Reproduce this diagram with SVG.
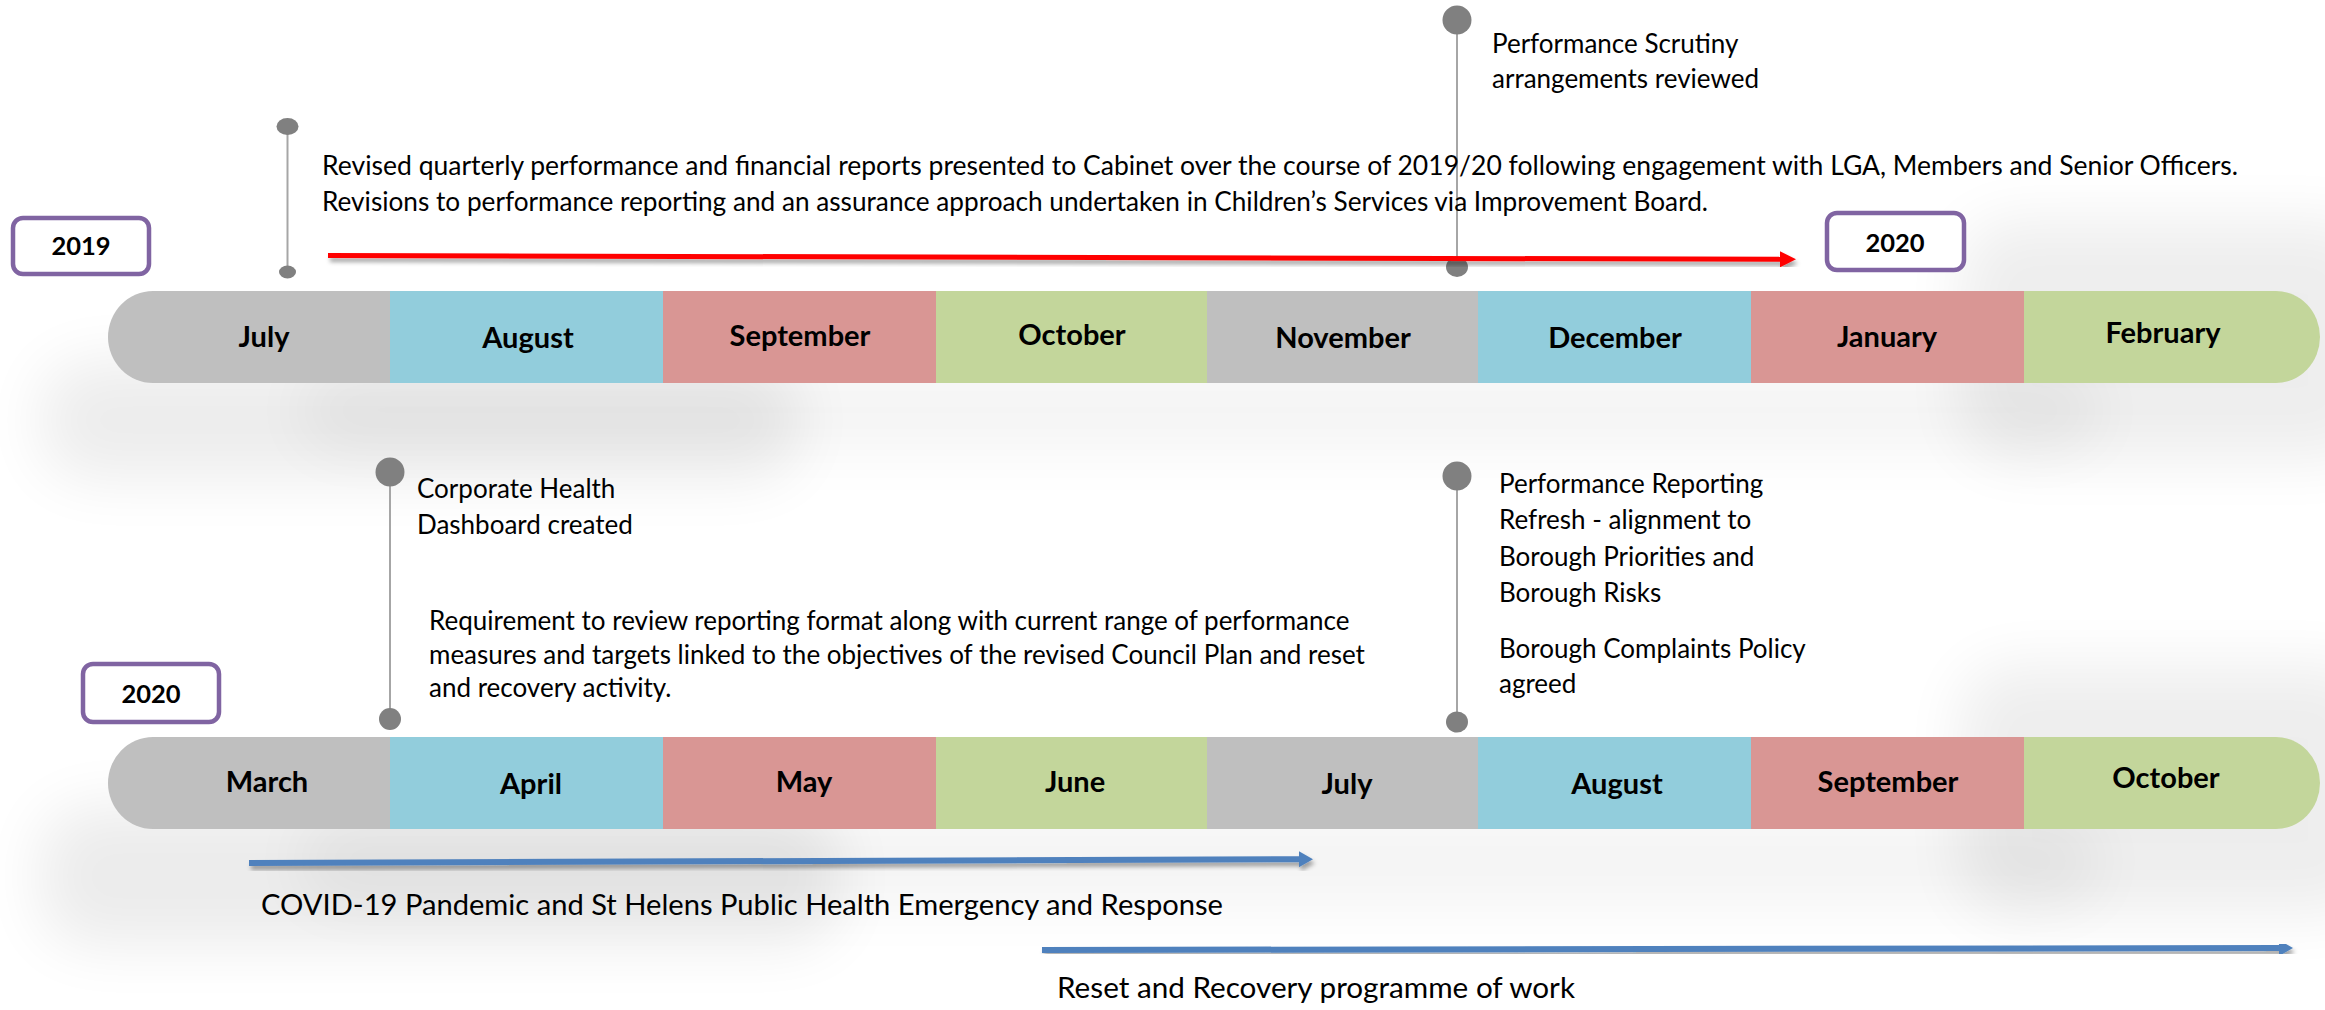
<svg xmlns="http://www.w3.org/2000/svg" width="2325" height="1010" viewBox="0 0 2325 1010">
  <defs>
    <style>
      .seg-gray{fill:#BFBFBF}
      .seg-blue{fill:#92CDDC}
      .seg-red{fill:#D99694}
      .seg-green{fill:#C3D69B}
      .month{font-family:Lato,"Liberation Sans",sans-serif;font-weight:700;font-size:29px;fill:#000;text-anchor:middle}
      .year-box{fill:#fff;stroke:#8064A2;stroke-width:4.5}
      .year{font-family:Lato,"Liberation Sans",sans-serif;font-weight:700;font-size:25.5px;fill:#000;text-anchor:middle}
      .note{font-family:Lato,"Liberation Sans",sans-serif;font-size:26px;fill:#000}
      .band{font-family:Lato,"Liberation Sans",sans-serif;font-size:29.5px;fill:#000}
      .stem{stroke:#A6A6A6;stroke-width:2;fill:none}
      .dot{fill:#808080}
      .haze{fill:#000;filter:url(#blur)}
    </style>
    <filter id="blur" x="-50%" y="-100%" width="200%" height="300%">
      <feGaussianBlur stdDeviation="30"/>
    </filter>
    <filter id="arrowShadow" x="-5%" y="-200%" width="110%" height="500%">
      <feDropShadow dx="2" dy="4" stdDeviation="2.2" flood-color="#000" flood-opacity="0.35"/>
    </filter>
    <marker id="headRed" markerUnits="userSpaceOnUse" viewBox="0 0 16 16" markerWidth="16" markerHeight="16" refX="0" refY="8" orient="auto">
      <path d="M0,0 L16,8 L0,16 Z" fill="#FF0000"/>
    </marker>
    <marker id="headBlue" markerUnits="userSpaceOnUse" viewBox="0 0 14 16" markerWidth="14" markerHeight="16" refX="0" refY="8" orient="auto">
      <path d="M0,0 L14,8 L0,16 Z" fill="#4F81BD"/>
    </marker>
  </defs>

  <rect width="2325" height="1010" fill="#fff"/>

  <!-- soft shadows beneath bars -->
  <g id="bar-shadows">
    <rect class="haze" x="40" y="360" width="760" height="120" rx="50" opacity="0.07"/>
    <rect class="haze" x="300" y="370" width="1800" height="80" rx="35" opacity="0.045"/>
    <rect class="haze" x="1960" y="220" width="420" height="240" rx="50" opacity="0.065"/>
    <rect class="haze" x="40" y="806" width="800" height="140" rx="50" opacity="0.075"/>
    <rect class="haze" x="300" y="816" width="1800" height="90" rx="35" opacity="0.045"/>
    <rect class="haze" x="1960" y="665" width="420" height="250" rx="50" opacity="0.065"/>
  </g>

  <!-- Top timeline -->
  <g id="timeline-2019">
    <g id="m-jul-2019"><path class="seg-gray" d="M390,291 L153,291 A45,46 0 0 0 153,383 L390,383 Z"/><text class="month" x="264" y="347">July</text></g>
    <g id="m-aug-2019"><rect class="seg-blue" x="390" y="291" width="273" height="92"/><text class="month" x="528" y="348">August</text></g>
    <g id="m-sep-2019"><rect class="seg-red" x="663" y="291" width="273" height="92"/><text class="month" x="800" y="346">September</text></g>
    <g id="m-oct-2019"><rect class="seg-green" x="936" y="291" width="271" height="92"/><text class="month" x="1072" y="345">October</text></g>
    <g id="m-nov-2019"><rect class="seg-gray" x="1207" y="291" width="271" height="92"/><text class="month" x="1343" y="348">November</text></g>
    <g id="m-dec-2019"><rect class="seg-blue" x="1478" y="291" width="273" height="92"/><text class="month" x="1615" y="348">December</text></g>
    <g id="m-jan-2020"><rect class="seg-red" x="1751" y="291" width="273" height="92"/><text class="month" x="1887" y="347">January</text></g>
    <g id="m-feb-2020"><path class="seg-green" d="M2024,291 L2276,291 A44,46 0 0 1 2276,383 L2024,383 Z"/><text class="month" x="2163" y="343">February</text></g>
  </g>

  <!-- Bottom timeline -->
  <g id="timeline-2020">
    <g id="m-mar-2020"><path class="seg-gray" d="M390,737 L153,737 A45,46 0 0 0 153,829 L390,829 Z"/><text class="month" x="267" y="792">March</text></g>
    <g id="m-apr-2020"><rect class="seg-blue" x="390" y="737" width="273" height="92"/><text class="month" x="531" y="794">April</text></g>
    <g id="m-may-2020"><rect class="seg-red" x="663" y="737" width="273" height="92"/><text class="month" x="804" y="792">May</text></g>
    <g id="m-jun-2020"><rect class="seg-green" x="936" y="737" width="271" height="92"/><text class="month" x="1075" y="792">June</text></g>
    <g id="m-jul-2020"><rect class="seg-gray" x="1207" y="737" width="271" height="92"/><text class="month" x="1347" y="794">July</text></g>
    <g id="m-aug-2020"><rect class="seg-blue" x="1478" y="737" width="273" height="92"/><text class="month" x="1617" y="794">August</text></g>
    <g id="m-sep-2020"><rect class="seg-red" x="1751" y="737" width="273" height="92"/><text class="month" x="1888" y="792">September</text></g>
    <g id="m-oct-2020"><path class="seg-green" d="M2024,737 L2276,737 A44,46 0 0 1 2276,829 L2024,829 Z"/><text class="month" x="2166" y="788">October</text></g>
  </g>

  <!-- Year labels -->
  <g id="year-2019"><rect class="year-box" x="13" y="218" width="136" height="56" rx="10"/><text class="year" x="81" y="255">2019</text></g>
  <g id="year-2020-top"><rect class="year-box" x="1827" y="213" width="137" height="57" rx="10"/><text class="year" x="1895" y="252">2020</text></g>
  <g id="year-2020-bottom"><rect class="year-box" x="83" y="664" width="136" height="58" rx="10"/><text class="year" x="151" y="703">2020</text></g>

  <!-- Milestone markers -->
  <g id="marker-jul-2019">
    <line class="stem" x1="287.5" y1="132" x2="287.5" y2="268"/>
    <ellipse class="dot" cx="287.5" cy="126.5" rx="11" ry="8.5"/>
    <ellipse class="dot" cx="287.5" cy="272" rx="8.5" ry="6.5"/>
  </g>
  <g id="marker-dec-2019">
    <line class="stem" x1="1457" y1="30" x2="1457" y2="262"/>
    <circle class="dot" cx="1457" cy="20" r="14.5"/>
    <ellipse class="dot" cx="1457" cy="267" rx="11" ry="10"/>
  </g>
  <g id="marker-apr-2020">
    <line class="stem" x1="390" y1="482" x2="390" y2="714"/>
    <circle class="dot" cx="390" cy="472" r="14.5"/>
    <ellipse class="dot" cx="390" cy="719" rx="11" ry="11"/>
  </g>
  <g id="marker-aug-2020">
    <line class="stem" x1="1457" y1="486" x2="1457" y2="716"/>
    <circle class="dot" cx="1457" cy="476" r="14.5"/>
    <ellipse class="dot" cx="1457" cy="722" rx="11" ry="10.5"/>
  </g>

  <!-- Notes -->
  <g id="note-quarterly-reports">
    <text class="note" x="322" y="175" textLength="1916" lengthAdjust="spacingAndGlyphs">Revised quarterly performance and financial reports presented to Cabinet over the course of 2019/20 following engagement with LGA, Members and Senior Officers.</text>
    <text class="note" x="322" y="211" textLength="1386" lengthAdjust="spacingAndGlyphs">Revisions to performance reporting and an assurance approach undertaken in Children’s Services via Improvement Board.</text>
  </g>
  <g id="note-scrutiny">
    <text class="note" x="1492" y="53">Performance Scrutiny</text>
    <text class="note" x="1492" y="88">arrangements reviewed</text>
  </g>
  <g id="note-dashboard">
    <text class="note" x="417" y="498">Corporate Health</text>
    <text class="note" x="417" y="534">Dashboard created</text>
  </g>
  <g id="note-requirement">
    <text class="note" x="429" y="630">Requirement to review reporting format along with current range of performance</text>
    <text class="note" x="429" y="664">measures and targets linked to the objectives of the revised Council Plan and reset</text>
    <text class="note" x="429" y="697">and recovery activity.</text>
  </g>
  <g id="note-refresh">
    <text class="note" x="1499" y="493">Performance Reporting</text>
    <text class="note" x="1499" y="529">Refresh - alignment to</text>
    <text class="note" x="1499" y="566">Borough Priorities and</text>
    <text class="note" x="1499" y="602">Borough Risks</text>
    <text class="note" x="1499" y="658">Borough Complaints Policy</text>
    <text class="note" x="1499" y="693">agreed</text>
  </g>
  <g id="label-covid"><text class="band" x="261" y="915" textLength="962" lengthAdjust="spacingAndGlyphs">COVID-19 Pandemic and St Helens Public Health Emergency and Response</text></g>
  <g id="label-reset"><text class="band" x="1057" y="998" textLength="518" lengthAdjust="spacingAndGlyphs">Reset and Recovery programme of work</text></g>

  <!-- Connectors -->
  <g id="connectors">
    <line x1="328" y1="255.5" x2="1780" y2="259.3" stroke="#FF0000" stroke-width="5" marker-end="url(#headRed)" filter="url(#arrowShadow)"/>
    <line x1="249" y1="863" x2="1299" y2="859.2" stroke="#4F81BD" stroke-width="6" marker-end="url(#headBlue)" filter="url(#arrowShadow)"/>
    <line x1="1042" y1="950" x2="2279" y2="948" stroke="#4F81BD" stroke-width="6" marker-end="url(#headBlue)" filter="url(#arrowShadow)"/>
  </g>
</svg>
